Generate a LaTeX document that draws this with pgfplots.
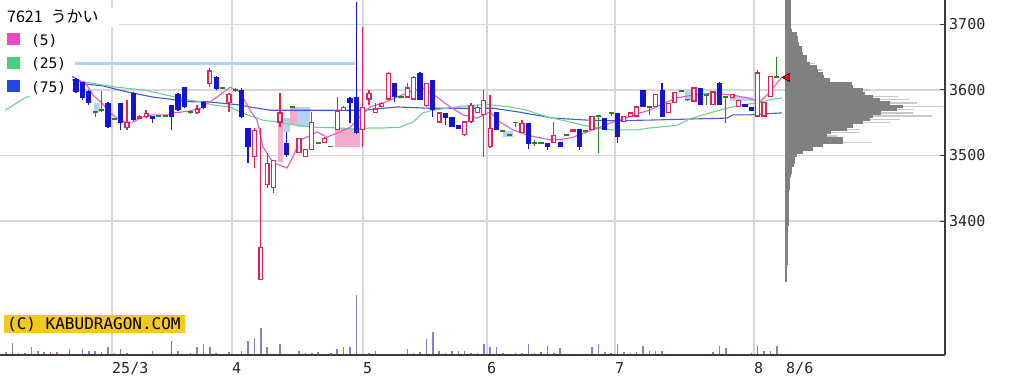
\documentclass[border=0pt]{standalone}
\usepackage{pgfplots}
\pgfplotsset{compat=1.18}
\usepackage{pgfplotstable}
\usepackage{fontspec}
\setmainfont{DejaVu Sans}
\setmonofont{DejaVu Sans Mono}
\newfontfamily\cjk{Noto Sans CJK JP}

\definecolor{upred}{RGB}{232,32,88}
\definecolor{dnblue}{RGB}{20,20,215}
\definecolor{dojigreen}{RGB}{40,130,40}
\definecolor{maf}{RGB}{230,90,200}
\definecolor{mam}{RGB}{110,210,140}
\definecolor{mas}{RGB}{70,90,215}
\definecolor{profdark}{RGB}{128,128,128}
\definecolor{proflight}{RGB}{200,200,200}
\definecolor{gridgray}{RGB}{215,215,215}
\definecolor{axisgray}{RGB}{60,60,60}
\definecolor{gapblue}{RGB}{180,210,242}
\definecolor{gappink}{RGB}{244,170,204}
\definecolor{hlineblue}{RGB}{176,208,240}
\definecolor{cpyellow}{RGB}{245,200,30}
\definecolor{volblue}{RGB}{128,128,215}
\definecolor{volred}{RGB}{200,90,90}
\definecolor{lgpink}{RGB}{240,70,200}
\definecolor{lggreen}{RGB}{70,210,120}
\definecolor{lgblue}{RGB}{40,70,230}

% up candles (red, hollow)
\pgfplotstableread{
k o h l c
19 3542 3585 3539 3551
21 3556 3562 3555 3560
22 3559 3569 3557 3565
30 3565 3577 3563 3572
32 3609 3633 3604 3630
35 3580 3595 3566 3594
39 3498 3542 3481 3539
40 3310 3542 3310 3361
41 3455 3504 3450 3489
42 3450 3493 3443 3493
43 3550 3595 3543 3566
46 3504 3527 3504 3527
47 3498 3510 3498 3510
48 3508 3566 3508 3551
50 3519 3528 3519 3527
52 3539 3589 3539 3569
53 3569 3575 3568 3574
56 3539 3696 3513 3574
57 3585 3600 3577 3595
58 3565 3580 3565 3572
59 3574 3582 3574 3580
60 3585 3627 3585 3626
63 3588 3611 3588 3604
64 3585 3621 3585 3620
66 3575 3611 3574 3611
68 3550 3566 3550 3566
72 3531 3552 3530 3552
73 3551 3580 3550 3577
74 3565 3577 3565 3574
75 3562 3600 3498 3585
76 3513 3592 3511 3542
81 3534 3554 3534 3550
86 3519 3551 3519 3531
89 3536 3540 3536 3540
92 3539 3560 3539 3560
97 3551 3560 3551 3560
98 3559 3566 3559 3566
99 3559 3575 3559 3575
102 3574 3594 3574 3594
104 3565 3580 3565 3580
105 3580 3597 3580 3597
108 3582 3604 3582 3604
111 3577 3598 3577 3598
114 3588 3594 3588 3594
115 3574 3585 3574 3585
118 3559 3630 3559 3627
119 3559 3582 3559 3582
120 3589 3621 3589 3621
}\uptab

% down candles (blue, filled)
\pgfplotstableread{
k o h l c
11 3617 3618 3595 3597
12 3612 3612 3585 3588
13 3598 3600 3577 3580
16 3580 3582 3542 3543
18 3580 3580 3539 3550
20 3595 3597 3553 3554
23 3560 3560 3550 3556
26 3577 3577 3539 3559
27 3594 3595 3568 3569
28 3604 3604 3572 3574
31 3582 3582 3571 3572
33 3620 3621 3600 3601
37 3600 3603 3557 3559
38 3542 3542 3489 3513
44 3519 3536 3498 3501
54 3588 3589 3550 3580
55 3589 3734 3533 3534
61 3611 3611 3582 3589
65 3626 3627 3585 3585
67 3615 3615 3559 3569
69 3565 3565 3546 3557
70 3559 3559 3543 3543
71 3546 3546 3540 3540
77 3566 3566 3539 3539
82 3550 3550 3510 3517
85 3519 3519 3508 3513
87 3521 3521 3513 3513
90 3540 3540 3508 3513
94 3557 3557 3539 3539
96 3565 3565 3519 3528
100 3600 3600 3574 3574
103 3600 3611 3559 3559
109 3603 3603 3577 3577
112 3611 3612 3577 3577
116 3579 3579 3574 3574
117 3574 3574 3568 3568
}\dntab

% doji candles (green)
\pgfplotstableread{
k c h l
14 3566 3566 3559
15 3569 3598 3566
17 3556 3557 3554
24 3560 3562 3559
25 3560 3561 3559
29 3566 3568 3563
34 3603 3604 3601
36 3600 3603 3597
45 3574 3575 3573
49 3519 3520 3518
51 3514 3515 3513
62 3589 3590 3588
78 3537 3538 3536
79 3531 3532 3530
80 3550 3551 3543
83 3519 3524 3514
84 3519 3520 3518
88 3531 3532 3530
91 3537 3538 3536
93 3560 3561 3504
95 3565 3566 3560
101 3574 3575 3562
106 3598 3599 3597
107 3585 3586 3584
110 3592 3593 3577
113 3589 3590 3550
121 3620 3650 3620
}\dojitab

% volume
\pgfplotstableread{
k v
0 3.3
1 12.3
2 2
3 2
4 8
5 4.3
6 3.3
8 3.3
9 1
10 5.7
11 1
12 5.7
13 4.3
14 4.3
15 3.3
16 7.7
17 2
18 5.7
19 2
20 1
21 1
22 1
23 4.3
24 0.5
25 0.5
27 4.3
28 0.5
29 2
30 7.7
31 11
32 7.7
33 2
34 1
35 3
36 1
37 4.3
38 14
39 16.7
40 26.7
41 7.7
42 1
43 11
45 0.5
46 4.3
47 2
48 2
49 3
50 1
51 2
52 5.7
53 7.7
54 7.7
55 60
56 72
57 2
58 4.3
59 1
60 1
61 1
62 0.5
63 5.7
64 2
65 3
66 15.7
67 23.3
68 4.3
69 2
70 4.3
71 4.3
72 4.3
73 2
74 2
75 11
76 7.7
77 7.7
78 2
79 1
80 2
81 2.5
82 11
83 2
85 9
86 2.5
87 7
88 0.5
89 1
90 1
91 1
92 7.7
93 11
94 3.3
95 2.5
96 11
97 3.3
98 2.5
99 3.3
100 9
101 4.3
102 4.3
103 4.3
104 0.5
105 1
106 0.5
107 1
108 1
109 1
110 1
111 3
112 9
113 7
114 1
115 1
116 1
117 2
118 9
119 4.3
120 4.3
121 9
}\volb
\pgfplotstableread{
k v
7 3.3
26 14
44 1
84 3
}\volr

% price volume profile (price, length)
\pgfplotstableread{
p L
3735 6
3730 6
3725 6
3720 6
3715 6
3710 6
3705 6
3700 6
3695 6
3690 7
3685 12
3680 13
3675 13
3670 14
3665 17
3660 17
3655 18
3650 22
3645 22
3640 25
3635 32
3630 33
3625 38
3620 39
3615 45
3610 67
3605 68
3600 78
3595 80
3590 88
3585 95
3580 105
3575 118
3570 112
3565 96
3560 88
3555 85
3550 78
3545 68
3540 62
3535 46
3530 42
3525 58
3520 58
3515 38
3510 28
3505 18
3500 12
3495 10
3490 10
3485 9
3480 7
3475 7
3470 6
3465 5
3460 5
3455 5
3450 5
3445 4
3440 4
3435 4
3430 4
3425 4
3420 4
3415 4
3410 4
3405 4
3400 4
3395 4
3390 3
3385 3
3380 3
3375 3
3370 3
3365 3
3360 3
3355 3
3350 3
3345 3
3340 3
3335 3
3330 2
3325 2
3320 2
3315 2
3310 2
}\prof
\pgfplotstableread{
p L
3640 30
3630 37
3600 85
3590 113
3585 125
3580 132
3575 158
3570 128
3565 128
3560 147
3555 115
3550 105
3540 75
3535 75
3530 52
3520 87
}\proflt

\begin{document}
\begin{tikzpicture}
% ---------- volume ----------
\begin{axis}[at={(0pt,0pt)}, anchor=south west, scale only axis,
  width=945pt, height=355pt, xmin=0, xmax=945, ymin=0, ymax=355, hide axis]
\addplot[ycomb, no markers, line width=1.5pt, color=volblue]
  table[x expr=6+6.37*\thisrow{k}, y=v]{\volb};
\addplot[ycomb, no markers, line width=1.5pt, color=volred]
  table[x expr=6+6.37*\thisrow{k}, y=v]{\volr};
\end{axis}
% ---------- price ----------
\begin{axis}[at={(0pt,0pt)}, anchor=south west, scale only axis,
  width=945pt, height=355pt,
  xmin=0, xmax=945, ymin=3196, ymax=3737,
  axis x line=bottom, axis y line=right,
  axis line style={-, draw=axisgray, line width=1.8pt},
  xtick={112,232,363,487,615,754}, xticklabels={25/3,4,5,6,7,8},
  extra x ticks={786}, extra x tick labels={8/6}, extra x tick style={grid=none},
  ytick={3400,3500,3600,3700}, yticklabels={3400,3500,3600,3700},
  xmajorgrids, ymajorgrids, grid style={draw=gridgray, line width=1.3pt},
  x tick style={draw=none}, y tick style={draw=axisgray, line width=1pt},
  major tick length=5pt, tick align=inside,
  tick label style={font=\ttfamily\fontsize{15}{15}\selectfont, text=black!85},
  xticklabel style={anchor=north west, inner sep=0pt, yshift=-7pt},
  yticklabel style={anchor=west, inner sep=0pt, xshift=4pt},
]
% gaps (windows)
\addplot[fill=gapblue, draw=none] coordinates {(94,3580) (100,3580) (100,3566) (94,3566)};
\addplot[fill=gappink, draw=none] coordinates {(278,3551) (283,3551) (283,3490) (278,3490)};
\addplot[fill=gapblue, draw=none] coordinates {(283,3557) (290,3557) (290,3536) (283,3536)};
\addplot[fill=gappink, draw=none] coordinates {(290,3574) (297,3574) (297,3546) (290,3546)};
\addplot[fill=gapblue, draw=none] coordinates {(297,3574) (310,3574) (310,3543) (297,3543)};
\addplot[fill=gappink, draw=none] coordinates {(335,3542) (360,3542) (360,3513) (335,3513)};
\addplot[fill=gapblue, draw=none] coordinates {(503,3537) (513,3537) (513,3528) (503,3528)};
\addplot[fill=gapblue, draw=none] coordinates {(685,3600) (691,3600) (691,3583) (685,3583)};
\addplot[fill=gapblue, draw=none] coordinates {(730,3589) (753,3589) (753,3583) (730,3583)};
% horizontal line
\addplot[hlineblue, line width=3pt, no markers] coordinates {(75,3640) (355,3640)};
% volume profile
\addplot[draw=none, mark=none, error bars/.cd, x dir=both, x explicit, error mark=none,
  error bar style={draw=proflight, line width=1.5pt}]
  table[x expr=785+\thisrow{L}/2, y=p, x error expr=\thisrow{L}/2]{\proflt};
\addplot[draw=none, mark=none, error bars/.cd, x dir=both, x explicit, error mark=none,
  error bar style={draw=profdark, line width=3.35pt}]
  table[x expr=785+\thisrow{L}/2, y=p, x error expr=\thisrow{L}/2]{\prof};
% moving averages
\addplot[mas, line width=1.1pt, no markers] coordinates {
(5,3627) (65,3627) (85,3609) (103,3606) (127,3597) (153,3589) (175,3585) (190,3582)
(207,3582) (220,3580) (240,3577) (250,3574) (270,3569) (297,3569) (330,3569) (363,3569)
(397,3574) (430,3572) (463,3572) (493,3572) (520,3566) (553,3557) (587,3554) (610,3553)
(650,3554) (700,3556) (727,3557) (733,3562) (750,3562) (782,3565)};
\addplot[mam, line width=1.1pt, no markers] coordinates {
(5,3569) (25,3588) (73,3615) (93,3610) (117,3604) (143,3600) (167,3592) (187,3585)
(200,3582) (213,3577) (230,3574) (247,3562) (263,3554) (277,3551) (297,3546) (317,3543)
(340,3542) (357,3540) (370,3542) (383,3542) (400,3543) (413,3551) (423,3565) (433,3569)
(460,3575) (487,3578) (510,3574) (527,3569) (547,3559) (570,3551) (593,3543) (613,3539)
(637,3539) (650,3542) (677,3546) (690,3556) (710,3565) (727,3572) (740,3577) (757,3580)
(770,3585) (782,3588)};
\addplot[maf, line width=1.1pt, no markers] coordinates {
(5,3626) (30,3627) (62,3618) (85,3612) (93,3592) (102,3580) (110,3565) (117,3557)
(125,3551) (133,3551) (143,3559) (153,3562) (167,3562) (173,3565) (180,3566) (190,3568)
(200,3572) (210,3582) (217,3589) (230,3604) (240,3597) (250,3569) (257,3554) (263,3513)
(273,3489) (287,3481) (293,3498) (300,3524) (307,3528) (317,3536) (327,3528) (340,3536)
(350,3543) (360,3559) (370,3574) (383,3580) (397,3589) (410,3597) (423,3603) (437,3589)
(450,3574) (463,3562) (477,3557) (490,3566) (500,3551) (513,3539) (527,3531) (540,3527)
(550,3524) (560,3524) (573,3528) (587,3536) (600,3543) (613,3551) (620,3554) (640,3565)
(650,3569) (660,3577) (677,3588) (693,3592) (713,3595) (733,3592) (747,3588) (760,3582)
(770,3597) (782,3620)};
% down candles
\addplot[draw=none, mark=none, error bars/.cd, y dir=both, y explicit, error mark=none,
  error bar style={draw=dnblue, line width=1.3pt}]
  table[x expr=6+6.37*\thisrow{k}, y expr=(\thisrow{h}+\thisrow{l})/2,
        y error expr=(\thisrow{h}-\thisrow{l})/2]{\dntab};
\addplot[draw=none, mark=none, error bars/.cd, y dir=both, y explicit, error mark=none,
  error bar style={draw=dnblue, line width=5.2pt}]
  table[x expr=6+6.37*\thisrow{k}, y expr=(\thisrow{o}+\thisrow{c})/2,
        y error expr=(\thisrow{o}-\thisrow{c})/2]{\dntab};
% up candles
\addplot[draw=none, mark=none, error bars/.cd, y dir=both, y explicit, error mark=none,
  error bar style={draw=upred, line width=1.3pt}]
  table[x expr=6+6.37*\thisrow{k}, y expr=(\thisrow{h}+\thisrow{l})/2,
        y error expr=(\thisrow{h}-\thisrow{l})/2]{\uptab};
\addplot[draw=none, mark=none, error bars/.cd, y dir=both, y explicit, error mark=none,
  error bar style={draw=upred, line width=5.2pt}]
  table[x expr=6+6.37*\thisrow{k}, y expr=(\thisrow{o}+\thisrow{c})/2,
        y error expr=(\thisrow{c}-\thisrow{o})/2]{\uptab};
\addplot[draw=none, mark=none, error bars/.cd, y dir=both, y explicit, error mark=none,
  error bar style={draw=white, line width=2.6pt}]
  table[x expr=6+6.37*\thisrow{k}, y expr=(\thisrow{o}+\thisrow{c})/2,
        y error expr={max((\thisrow{c}-\thisrow{o})/2-2,0)}]{\uptab};
% doji candles
\addplot[only marks, mark=-, mark size=2.6pt, mark options={draw=dojigreen, line width=1.5pt},
  error bars/.cd, y dir=both, y explicit, error mark=none,
  error bar style={draw=dojigreen, line width=1.3pt}]
  table[x expr=6+6.37*\thisrow{k}, y=c,
        y error plus expr=\thisrow{h}-\thisrow{c},
        y error minus expr=\thisrow{c}-\thisrow{l}]{\dojitab};
% last price marker
\addplot[only marks, mark=triangle*, mark size=4.7pt,
  mark options={rotate=90, fill=red, draw=black, line width=0.6pt}] coordinates {(787,3619)};
\end{axis}
% ---------- title and legend ----------
\fill[white] (0pt,328pt) rectangle (119pt,347pt);
\node[anchor=base west, inner sep=0pt, font=\cjk\fontsize{16}{16}\selectfont] at (7pt,333pt) {7621\hspace{8pt}うかい};
\fill[white] (0pt,259pt) rectangle (72pt,328pt);
\fill[lgpink] (7pt,310pt) rectangle (20pt,322pt);
\fill[lggreen] (7pt,286pt) rectangle (20pt,298pt);
\fill[lgblue] (7pt,263pt) rectangle (20pt,275pt);
\node[anchor=base west, inner sep=0pt, font=\ttfamily\fontsize{14.5}{14.5}\selectfont] at (31pt,310pt) {(5)};
\node[anchor=base west, inner sep=0pt, font=\ttfamily\fontsize{14.5}{14.5}\selectfont] at (31pt,287pt) {(25)};
\node[anchor=base west, inner sep=0pt, font=\ttfamily\fontsize{14.5}{14.5}\selectfont] at (31pt,263pt) {(75)};
% copyright
\fill[cpyellow] (4pt,22pt) rectangle (185pt,40pt);
\node[anchor=base west, inner sep=0pt, font=\ttfamily\fontsize{16}{16}\selectfont] at (7pt,26pt) {(C) KABUDRAGON.COM};
\pgfresetboundingbox
\path (0pt,-29pt) rectangle (1010pt,355pt);
\end{tikzpicture}
\end{document}
